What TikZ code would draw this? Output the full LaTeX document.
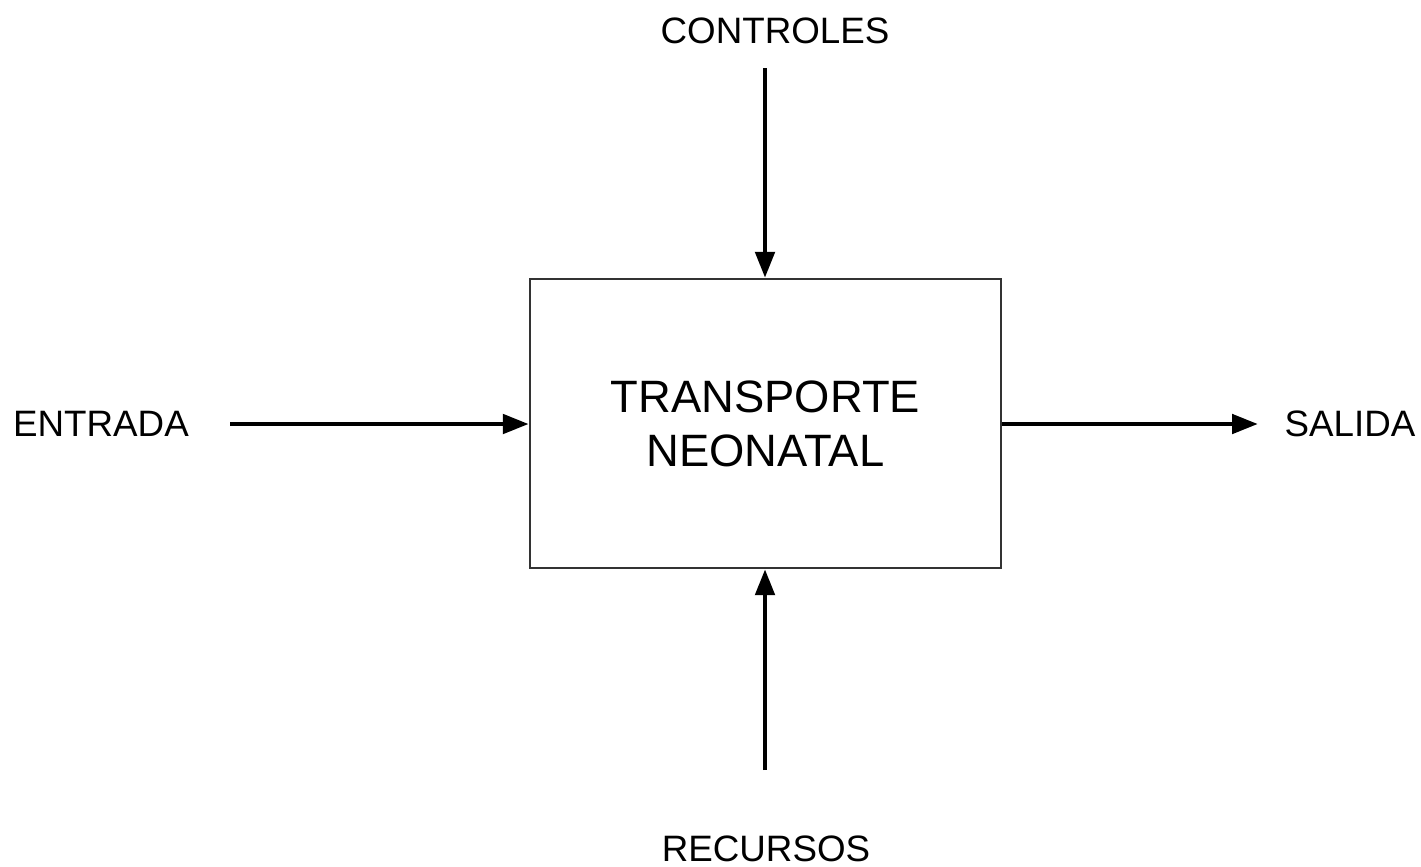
\documentclass[tikz,border=0pt]{standalone}
\usepackage{fontspec}
\setmainfont{Liberation Sans}
\usetikzlibrary{arrows.meta}

\begin{document}
\begin{tikzpicture}[x=0.01cm,y=-0.01cm,
  bloque/.style = {draw=black!80,line width=0.6pt,minimum width=4.71cm,minimum height=2.89cm,
    align=center,font=\fontsize{12.9}{15.3}\selectfont},
  etiqueta/.style = {font=\fontsize{10.45}{12}\selectfont,inner sep=0pt},
  flecha/.style = {line width=1.4pt,-{Triangle[length=0.26cm,width=0.19cm]}}]
\useasboundingbox (0,0) rectangle (1421,866);

\node[bloque] (T) at (765.5,423.5) {TRANSPORTE\\NEONATAL};
\node[etiqueta] (C) at (775,31) {CONTROLES};
\node[etiqueta] (E) at (101,424) {ENTRADA};
\node[etiqueta] (S) at (1350,424) {SALIDA};
\node[etiqueta] (R) at (766,849) {RECURSOS};

\coordinate (c0) at (765,68);
\coordinate (e0) at (230,424);
\coordinate (s1) at (1258,424);
\coordinate (r0) at (765,770);

\draw[flecha] (c0) -- (c0 |- T.north);
\draw[flecha] (e0) -- (T.west |- e0);
\draw[flecha] (T.east |- s1) -- (s1);
\draw[flecha] (r0) -- (r0 |- T.south);
\end{tikzpicture}
\end{document}
